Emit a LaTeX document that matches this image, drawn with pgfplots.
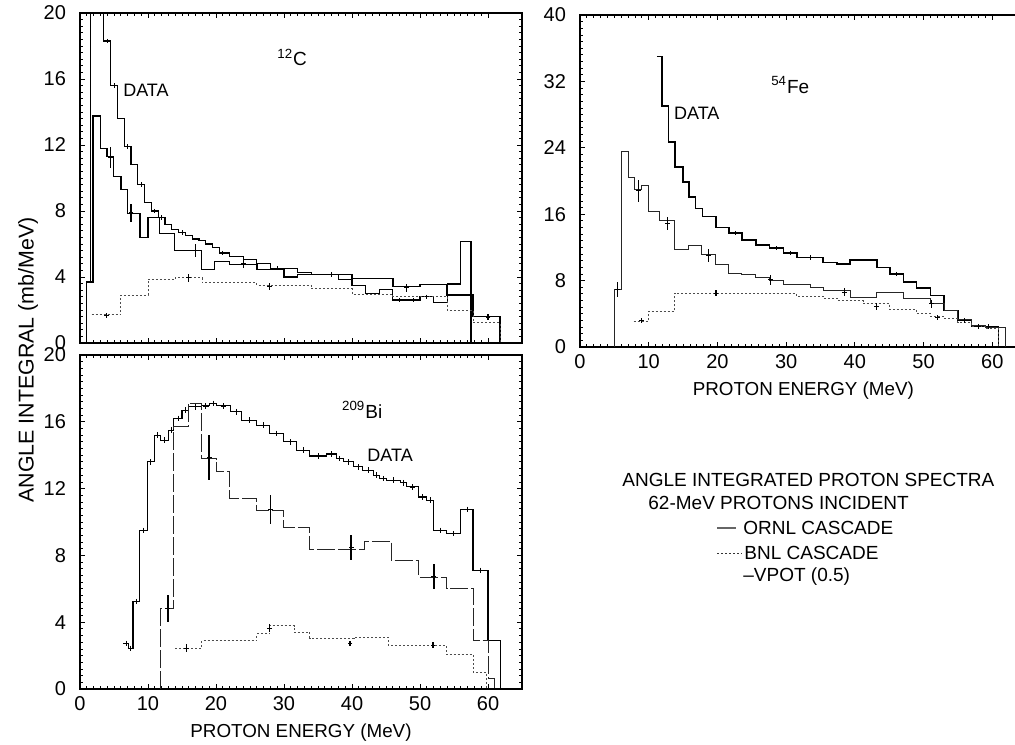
\documentclass[border=0pt]{standalone}
\usepackage{fontspec}
\setmainfont{Liberation Sans}
\usepackage{pgfplots}
\pgfplotsset{compat=1.18}
\newcommand{\lbl}{\fontsize{9.5}{11}\selectfont}
\pgfplotsset{
  panel/.style={scale only axis, anchor=south west, xmin=0, xmax=65,
    xtick={0,10,...,60}, minor x tick num=9, minor y tick num=9,
    tick align=inside, major tick length=2.5pt, minor tick length=1.4pt,
    axis line style={line width=0.7pt},
    every tick/.style={black, line width=0.4pt},
    tick label style={font=\fontsize{10}{12}\selectfont},
    /pgf/number format/assume math mode=true,
    yticklabel style={xshift=-3.5pt},
    xlabel style={font=\fontsize{9.4}{11}\selectfont},
    clip=true},
  datastyle/.style={black, line width=0.8pt, const plot, mark=none},
  ornl/.style={black!85, line width=0.5pt, const plot, mark=none},
  low/.style={black!70, line width=0.45pt, dash pattern=on 1pt off 1pt, const plot, mark=none},
  err/.style={black, only marks, mark=-, mark size=1.2pt, mark options={line width=0.5pt},
    error bars/y dir=both, error bars/y explicit,
    error bars/error bar style={line width=0.6pt}, error bars/error mark=none},
  crosses/.style={black, only marks, mark=+, mark size=1.4pt, mark options={line width=0.4pt}},
}
\begin{document}
\begin{tikzpicture}
\useasboundingbox (0,0) rectangle (507.5pt,372pt);
\clip (0,0) rectangle (507.5pt,372pt);

% ---------------- 12C ----------------
\begin{axis}[panel, at={(40pt,200.5pt)}, width=221pt, height=165pt,
  ymin=0, ymax=20, ytick={0,4,...,20}, xticklabels={}]
\addplot[datastyle, line width=0.6pt] coordinates {(0.9,0) (0.9,3.7) (1.5,20) (3.5,18.3) (4.5,15.6) (5.5,13.6) (6.5,11.9) (7.5,10.8) (8.5,9.6) (9.5,8.5) (10.5,8.0) (11.5,7.6) (12.5,7.2) (13.5,6.9) (14.5,6.7) (15.5,6.5) (16.5,6.3) (17.5,6.2) (18.5,6.0) (19.5,5.8) (20.5,5.45) (22,5.25) (24,5.07) (26,4.83) (28,4.53) (32,4.26) (34,4.16) (38,3.86) (40,3.47) (42,3.0) (44,3.25) (46,2.6) (50,2.8) (52,2.44) (54,3.58) (56,6.14) (57.5,6.14) (57.5,0)};
\addplot[crosses, mark size=1.1pt] coordinates {(4,18.3) (5,15.6) (7,11.9) (9,9.6) (11,8.0) (12,7.6) (15,6.7) (21,5.45) (29,4.53) (37,4.16) (47,2.6) (49,2.6) (51,2.8)};
\addplot[ornl, black, line width=0.75pt] coordinates {(1.5,3.7) (1.9,13.75) (3.0,11.8) (4.0,11.3) (4.9,10.1) (6.0,9.3) (7.0,7.85) (8.8,6.4) (10,7.6) (11.7,6.65) (13.9,5.6) (17.9,4.45) (19.8,4.95) (22,4.75) (26,4.45) (30,4.0) (32,4.16) (40,3.9) (46,3.41) (50,3.55) (54,2.9) (57.8,1.6) (61.8,1.6) (61.8,0)};
\addplot[err] coordinates {(4.5,11.25) +- (0,0.65) (7.5,7.9) +- (0,0.55) (17,5.6) +- (0,0.4) (24,4.83) +- (0,0.3) (48,3.35) +- (0,0.25) (60,1.57) +- (0,0.18)};
\addplot[low] coordinates {(1.7,1.7) (6,2.9) (10,3.86) (14,3.96) (18,3.66) (26,3.5) (34,3.3) (40,2.97) (46,2.85) (54,2.0) (57.8,1.23) (61.8,1.23) (61.8,0)};
\addplot[err] coordinates {(3.9,1.65) +- (0,0.15) (15.9,3.95) +- (0,0.23) (27.9,3.43) +- (0,0.23)};
\node[font=\lbl] at (axis cs:31.2,17.3) {\textsuperscript{12}C};
\node[font=\fontsize{9}{11}\selectfont] at (axis cs:9.7,15.3) {DATA};
\end{axis}

% ---------------- 209Bi ----------------
\begin{axis}[panel, at={(40pt,27.5pt)}, width=221pt, height=167pt,
  ymin=0, ymax=20, ytick={0,4,...,20}, xlabel={PROTON ENERGY (MeV)}]
\addplot[black, line width=0.55pt, const plot, mark=none] coordinates {(6.4,2.73) (7.1,2.43) (7.8,5.23) (8.8,9.5) (9.9,13.6) (10.9,15.2) (11.8,14.9) (13.0,15.5) (13.8,16.2) (15.0,16.7) (15.9,16.9) (17.9,16.95) (19.1,17.1) (20.1,16.95) (22.1,16.6) (23.8,16.1) (26.0,15.8) (27.9,15.3) (29.9,14.8) (31.9,14.3) (33.8,13.95) (36.3,14.07) (37.7,13.8) (38.7,13.6) (40.2,13.3) (41.6,13.1) (43.1,12.8) (44.1,12.6) (45.1,12.5) (47.1,12.35) (48.0,12.1) (49.8,11.5) (51.0,11.3) (52.0,9.5) (53.9,9.3) (55.9,10.75) (57.8,7.1) (60.0,2.9) (61.8,2.9) (61.8,0)};
\addplot[crosses] coordinates {(6.75,2.73) (7.45,2.43) (8.3,5.23) (9.35,9.5) (10.4,13.6) (11.35,15.2) (12.4,14.9) (13.4,15.5) (14.4,16.2) (15.45,16.7) (16.9,16.9) (18.5,16.95) (19.6,17.1) (21.1,16.95) (23,16.6) (24.9,16.1) (27,15.8) (28.9,15.3) (30.9,14.8) (32.9,14.3) (35,13.95) (37,14.07) (38.2,13.8) (39.5,13.6) (40.9,13.3) (42.4,13.1) (43.6,12.8) (44.6,12.6) (46.1,12.5) (47.5,12.35) (48.9,12.1) (50.4,11.5) (51.5,11.3) (53,9.5) (54.9,9.3) (56.9,10.75) (58.9,7.1)};
\addplot[ornl, dash pattern=on 9pt off 1.5pt] coordinates {(11.9,0) (11.9,4.8) (13.8,15.7) (15.9,17.1) (17.9,13.8) (20.0,13.0) (22.0,11.4) (26.0,10.7) (29.9,9.7) (33.8,8.35) (41.9,8.85) (45.8,7.7) (49.8,6.7) (53.9,6.0) (57.8,2.9) (60.0,0.6) (61.0,0.6) (61.0,0)};
\addplot[err, error bars/error bar style={line width=0.9pt}] coordinates {(12.9,4.8) +- (0,0.8) (19.0,13.85) +- (0,1.35) (28.0,10.75) +- (0,0.85) (39.9,8.45) +- (0,0.75) (52.0,6.75) +- (0,0.75)};
\addplot[low] coordinates {(14.0,2.45) (17.9,2.9) (26.0,3.3) (27.9,3.8) (31.5,3.4) (33.8,3.05) (40.3,3.1) (45.3,2.63) (53.9,2.04) (57.8,0.98) (59.8,0.98) (59.8,0)};
\addplot[err] coordinates {(15.7,2.45) +- (0,0.25) (27.9,3.65) +- (0,0.25) (39.7,2.7) +- (0,0.15) (51.9,2.63) +- (0,0.2)};
\node[font=\lbl] at (axis cs:41.5,16.7) {\textsuperscript{209}Bi};
\node[font=\fontsize{9}{11}\selectfont] at (axis cs:45.6,14.0) {DATA};
\end{axis}

% ---------------- 54Fe ----------------
\begin{axis}[panel, at={(290pt,198.5pt)}, width=223.3pt, height=166pt,
  ymin=0, ymax=40, ytick={0,8,...,40}, xlabel={PROTON ENERGY (MeV)}]
\addplot[datastyle] coordinates {(11.2,35) (11.9,29.0) (12.9,24.7) (13.8,21.7) (15.0,19.9) (15.9,18.1) (16.8,16.7) (17.8,15.7) (19.8,14.4) (21.7,13.7) (23.6,12.9) (25.6,12.3) (27.6,11.9) (29.6,11.3) (31.6,10.8) (35.4,10.2) (37.4,10.0) (39.3,10.45) (43.2,9.6) (45.1,8.8) (47.1,7.8) (49.0,7.1) (51.0,6.2) (53.0,4.4) (55.0,3.2) (57.0,2.45) (60.9,2.4) (60.9,0)};
\addplot[crosses, mark size=1.1pt] coordinates {(22.6,13.7) (28.6,11.9) (30.6,11.3) (33.5,10.8) (46.1,8.8) (56,3.2) (58,2.45) (59.5,2.45)};
\addplot[ornl] coordinates {(5.0,0) (5.0,6.95) (6.0,23.5) (7.0,20.4) (7.9,19.0) (9.0,19.5) (10.0,16.3) (11.6,15.3) (13.8,11.7) (15.8,12.2) (17.7,11.1) (19.7,9.9) (21.6,8.9) (23.5,8.7) (25.6,8.4) (27.6,8.07) (29.6,7.5) (33.5,7.2) (35.4,6.8) (39.3,6.0) (43.2,6.6) (47.1,5.9) (51.0,5.2) (53.0,4.45) (55.0,3.3) (57.0,2.6) (59.0,2.3) (61.9,2.3) (61.9,0)};
\addplot[err] coordinates {(5.4,6.95) +- (0,0.9) (8.5,18.8) +- (0,1.3) (12.7,14.9) +- (0,0.8) (18.7,11.05) +- (0,0.75) (27.7,8.1) +- (0,0.6) (38.5,6.6) +- (0,0.5) (51.2,5.2) +- (0,0.5)};
\addplot[low] coordinates {(7.8,3.1) (10.0,4.3) (13.8,6.5) (27.6,6.4) (31.5,6.1) (35.4,5.9) (37.4,5.6) (41.2,5.2) (45.1,4.5) (49.0,4.05) (51.0,3.7) (53.0,3.45) (55.0,3.0) (57.0,2.5) (59.0,2.25) (60.9,2.25) (60.9,0)};
\addplot[err] coordinates {(9.0,3.15) +- (0,0.3) (19.8,6.5) +- (0,0.35) (43.2,4.9) +- (0,0.4) (52,3.6) +- (0,0.3)};
\node[font=\lbl] at (axis cs:30.6,31.6) {\textsuperscript{54}Fe};
\node[font=\fontsize{9}{11}\selectfont] at (axis cs:17.0,28.2) {DATA};
\end{axis}

% ---------------- labels and legend ----------------
\node[rotate=90, font=\fontsize{10.7}{13}\selectfont] at (14pt,192pt) {ANGLE INTEGRAL (mb/MeV)};
\node[anchor=west, inner sep=0pt, font=\lbl] at (311pt,132pt) {ANGLE INTEGRATED PROTON SPECTRA};
\node[anchor=west, inner sep=0pt, font=\lbl] at (324pt,120.5pt) {62-MeV PROTONS INCIDENT};
\draw[black!60, line width=0.8pt] (358.5pt,108pt) -- (368pt,108pt);
\node[anchor=west, inner sep=0pt, font=\lbl] at (371.5pt,108pt) {ORNL CASCADE};
\draw[black!80, line width=0.4pt, dash pattern=on 1pt off 1pt] (358.5pt,95.5pt) -- (371pt,95.5pt);
\node[anchor=west, inner sep=0pt, font=\lbl] at (372pt,95.5pt) {BNL CASCADE};
\node[anchor=west, inner sep=0pt, font=\lbl] at (371.5pt,83.5pt) {–VPOT (0.5)};
\end{tikzpicture}
\end{document}
